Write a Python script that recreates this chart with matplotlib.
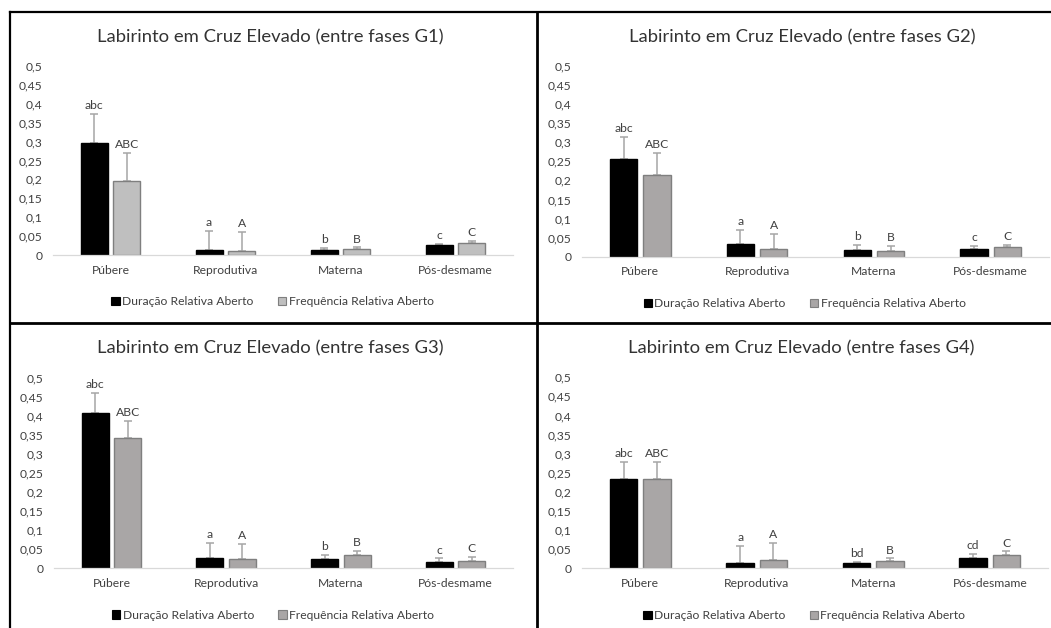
import matplotlib
matplotlib.use("Agg")
import matplotlib.pyplot as plt
from matplotlib.lines import Line2D
from matplotlib.patches import Rectangle
import numpy as np

plt.rcParams['font.family'] = ['Lato', 'DejaVu Sans']

# ---- data -------------------------------------------------------------
phases = ["Púbere", "Reprodutiva", "Materna", "Pós-desmame"]
groups = ["G1", "G2", "G3", "G4"]
series_names = ["Duração Relativa Aberto", "Frequência Relativa Aberto"]

dur_g1 = [0.297, 0.013, 0.013, 0.026]
dur_g2 = [0.256, 0.033, 0.018, 0.021]
dur_g3 = [0.408, 0.028, 0.024, 0.017]
dur_g4 = [0.234, 0.015, 0.013, 0.028]

dur_sd_g1 = [0.076, 0.050, 0.005, 0.004]
dur_sd_g2 = [0.059, 0.037, 0.013, 0.007]
dur_sd_g3 = [0.052, 0.039, 0.011, 0.009]
dur_sd_g4 = [0.045, 0.044, 0.004, 0.009]

freq_g1 = [0.195, 0.011, 0.015, 0.031]
freq_g2 = [0.213, 0.021, 0.015, 0.025]
freq_g3 = [0.341, 0.024, 0.035, 0.019]
freq_g4 = [0.234, 0.022, 0.019, 0.035]

freq_sd_g1 = [0.075, 0.051, 0.005, 0.006]
freq_sd_g2 = [0.060, 0.038, 0.014, 0.006]
freq_sd_g3 = [0.046, 0.041, 0.011, 0.011]
freq_sd_g4 = [0.045, 0.044, 0.007, 0.009]

dur_letters_g1 = ["abc", "a", "b", "c"]
dur_letters_g2 = ["abc", "a", "b", "c"]
dur_letters_g3 = ["abc", "a", "b", "c"]
dur_letters_g4 = ["abc", "a", "bd", "cd"]
freq_letters = ["ABC", "A", "B", "C"]

yticks = [0, 0.05, 0.1, 0.15, 0.2, 0.25, 0.3, 0.35, 0.4, 0.45, 0.5]
ytick_labels = ["0", "0,05", "0,1", "0,15", "0,2", "0,25", "0,3", "0,35", "0,4", "0,45", "0,5"]

# ---- styling ------------------------------------------------------------
W, H = 1051, 628
TEXT = "#404040"
TITLE = "#333333"
DUR_COLOR = "#000000"
FREQ_COLORS = {"G1": "#BFBFBF", "G2": "#A9A6A6", "G3": "#A9A6A6", "G4": "#A9A6A6"}
ERR_COLOR = "#A6A6A6"
SMALL = 8.7

fig = plt.figure(figsize=(W / 100, H / 100), dpi=100)
fig.patch.set_facecolor("white")


def fx(x):
    return x / W


def fy(y):
    return 1 - y / H


# plot area extents in pixels: left, right, zero line, top (0.5)
panels = {
    "G1": dict(box=(53, 513, 255, 66), title=(270, 37)),
    "G2": dict(box=(582, 1049, 256.7, 66), title=(802, 37)),
    "G3": dict(box=(54, 513, 568.3, 377.7), title=(270, 348)),
    "G4": dict(box=(582, 1048, 568.3, 377.3), title=(801, 348)),
}

data = {
    "G1": (dur_g1, dur_sd_g1, freq_g1, freq_sd_g1, dur_letters_g1),
    "G2": (dur_g2, dur_sd_g2, freq_g2, freq_sd_g2, dur_letters_g2),
    "G3": (dur_g3, dur_sd_g3, freq_g3, freq_sd_g3, dur_letters_g3),
    "G4": (dur_g4, dur_sd_g4, freq_g4, freq_sd_g4, dur_letters_g4),
}

x = np.arange(len(phases)) + 0.5
bw = 0.235
off = 0.1425

for g in groups:
    l, r, y0, yt = panels[g]["box"]
    ax = fig.add_axes([fx(l), fy(y0), (r - l) / W, (y0 - yt) / H])
    dur, dur_sd, freq, freq_sd, dur_letters = data[g]

    ax.bar(x - off, dur, bw, color=DUR_COLOR, edgecolor="#000000", linewidth=1, zorder=2)
    ax.bar(x + off, freq, bw, color=FREQ_COLORS[g], edgecolor="#7F7F7F", linewidth=1, zorder=2)
    ax.errorbar(x - off, dur, yerr=[np.zeros(len(dur)), dur_sd], fmt="none",
                ecolor=ERR_COLOR, elinewidth=1.1, capsize=3, capthick=1.1, zorder=1)
    ax.errorbar(x + off, freq, yerr=[np.zeros(len(freq)), freq_sd], fmt="none",
                ecolor=ERR_COLOR, elinewidth=1.1, capsize=3, capthick=1.1, zorder=1)

    for xi, v, s, t in zip(x - off, dur, dur_sd, dur_letters):
        ax.annotate(t, (xi, v + s), xytext=(0, 2), textcoords="offset points",
                    ha="center", va="bottom", fontsize=SMALL, color=TEXT, annotation_clip=False)
    for xi, v, s, t in zip(x + off, freq, freq_sd, freq_letters):
        ax.annotate(t, (xi, v + s), xytext=(0, 2), textcoords="offset points",
                    ha="center", va="bottom", fontsize=SMALL, color=TEXT, annotation_clip=False)

    ax.set_xlim(0, 4)
    ax.set_ylim(0, 0.5)
    ax.set_xticks(x)
    ax.set_xticklabels(phases, fontsize=SMALL, color=TEXT)
    ax.set_yticks(yticks)
    ax.set_yticklabels(ytick_labels, fontsize=SMALL, color=TEXT)
    ax.tick_params(axis="x", length=0, pad=7)
    ax.tick_params(axis="y", length=0, pad=7.5)
    for side in ("top", "right", "left"):
        ax.spines[side].set_visible(False)
    ax.spines["bottom"].set_color("#D9D9D9")
    ax.spines["bottom"].set_linewidth(0.9)
    ax.set_facecolor("none")

    handles = [Rectangle((0, 0), 1, 1, facecolor=DUR_COLOR, edgecolor="#000000", linewidth=0.8),
               Rectangle((0, 0), 1, 1, facecolor=FREQ_COLORS[g], edgecolor="#7F7F7F", linewidth=0.8)]
    ax.legend(handles, series_names, loc="center", bbox_to_anchor=(0.477, -0.247),
              ncol=2, frameon=False, fontsize=SMALL, handlelength=0.7, handleheight=0.7,
              handletextpad=0.2, columnspacing=2.0, labelcolor=TEXT)

    tx, ty = panels[g]["title"]
    fig.text(fx(tx), fy(ty), f"Labirinto em Cruz Elevado (entre fases {g})",
             ha="center", va="center", fontsize=13.3, color=TITLE)

# panel frame lines
frame_lw = 2.0
fig.add_artist(Line2D([fx(10), fx(10)], [fy(12), fy(H)], color="black", lw=frame_lw * 0.8))
fig.add_artist(Line2D([fx(10), fx(W)], [fy(12), fy(12)], color="black", lw=frame_lw * 0.8))
fig.add_artist(Line2D([fx(537), fx(537)], [fy(12), fy(H)], color="black", lw=frame_lw))
fig.add_artist(Line2D([fx(10), fx(W)], [fy(323), fy(323)], color="black", lw=frame_lw))

fig.savefig("out.png", dpi=100, facecolor="white")
